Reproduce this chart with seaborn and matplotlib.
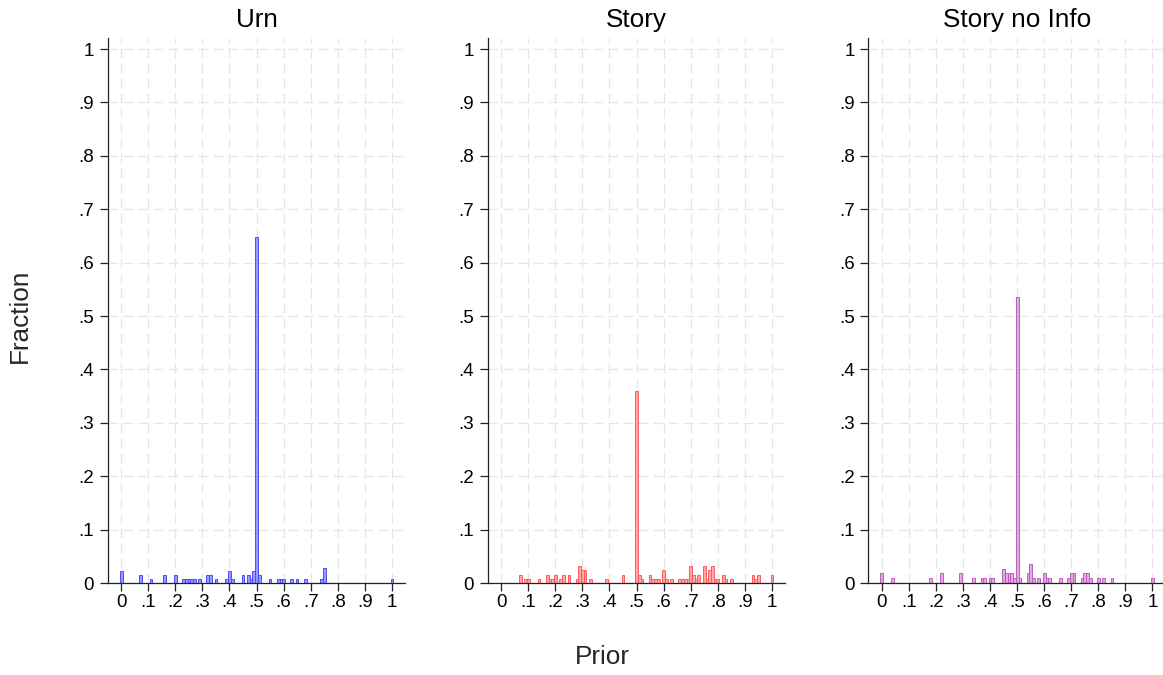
import numpy as np
import pandas as pd
import matplotlib
matplotlib.use("Agg")
import matplotlib.pyplot as plt
import seaborn as sns

# ---- data: bin centres (prior) and counts per panel ----
urn_prior = [0.00, 0.07, 0.11, 0.16, 0.20, 0.23, 0.24, 0.25, 0.26, 0.27, 0.29, 0.32, 0.33,
             0.35, 0.39, 0.40, 0.41, 0.45, 0.47, 0.48, 0.49, 0.50, 0.51, 0.55, 0.58, 0.59,
             0.60, 0.63, 0.65, 0.68, 0.74, 0.75, 1.00]
urn_count = [3, 2, 1, 2, 2, 1, 1, 1, 1, 1, 1, 2, 2,
             1, 1, 3, 1, 2, 2, 1, 3, 90, 2, 1, 1, 1,
             1, 1, 1, 1, 1, 4, 1]

story_prior = [0.07, 0.09, 0.10, 0.14, 0.17, 0.18, 0.19, 0.20, 0.22, 0.23, 0.25, 0.28, 0.29,
               0.30, 0.31, 0.33, 0.39, 0.45, 0.50, 0.51, 0.52, 0.55, 0.56, 0.57, 0.58, 0.60,
               0.61, 0.63, 0.66, 0.67, 0.68, 0.69, 0.70, 0.71, 0.72, 0.73, 0.75, 0.76, 0.77,
               0.78, 0.79, 0.80, 0.82, 0.83, 0.85, 0.93, 0.94, 0.95, 1.00]
story_count = [2, 1, 1, 1, 2, 1, 1, 2, 1, 2, 2, 1, 4,
               3, 3, 1, 1, 2, 46, 2, 1, 2, 1, 1, 1, 3,
               1, 1, 1, 1, 1, 1, 4, 2, 1, 2, 4, 1, 3,
               4, 1, 1, 2, 1, 1, 2, 1, 2, 2]

noinfo_prior = [0.00, 0.04, 0.18, 0.22, 0.29, 0.34, 0.37, 0.38, 0.40, 0.41, 0.45, 0.46, 0.47,
                0.48, 0.49, 0.50, 0.51, 0.54, 0.55, 0.56, 0.58, 0.60, 0.61, 0.62, 0.66, 0.69,
                0.70, 0.71, 0.74, 0.75, 0.76, 0.77, 0.80, 0.82, 0.85, 1.00]
noinfo_count = [2, 1, 1, 2, 2, 1, 1, 1, 1, 1, 3, 2, 2,
                2, 1, 60, 1, 2, 4, 1, 1, 2, 1, 1, 1, 1,
                2, 2, 1, 2, 2, 1, 1, 1, 1, 1]

panel_titles = ["Urn", "Story", "Story no Info"]
tick_vals = [0, .1, .2, .3, .4, .5, .6, .7, .8, .9, 1]
tick_labels = ["0", ".1", ".2", ".3", ".4", ".5", ".6", ".7", ".8", ".9", "1"]

panels = [
    (urn_prior, urn_count, "#7a7aff", "#4d4dff"),
    (story_prior, story_count, "#ff8c8c", "#ff5c5c"),
    (noinfo_prior, noinfo_count, "#d98ed9", "#bf5fbf"),
]

sns.set_style("white")
plt.rcParams["font.family"] = ["Liberation Sans", "DejaVu Sans"]

W, H = 1163, 675
fig = plt.figure(figsize=(W / 100, H / 100), dpi=100)

lefts = [107.7, 487.7, 868.3]
ax_w, ax_top, ax_bot = 297.7, 38.0, 583.0

for (prior, count, fc, ec), title, lp in zip(panels, panel_titles, lefts):
    ax = fig.add_axes([lp / W, (H - ax_bot) / H, ax_w / W, (ax_bot - ax_top) / H])
    df = pd.DataFrame({"prior": prior, "n": count})
    sns.histplot(data=df, x="prior", weights="n", bins=101, binrange=(-0.005, 1.005),
                 stat="probability", ax=ax, color=fc, edgecolor=ec, linewidth=0.7,
                 alpha=0.75)
    ax.set_xlim(-0.05, 1.05)
    ax.set_ylim(0, 1.0206)
    ax.set_xticks(tick_vals)
    ax.set_xticklabels(tick_labels)
    ax.set_yticks(tick_vals)
    ax.set_yticklabels(tick_labels)
    ax.set_xlabel("")
    ax.set_ylabel("")
    ax.grid(True, color="#e6e6e6", linewidth=0.9, linestyle=(0, (8, 4)))
    ax.set_axisbelow(True)
    for s in ["top", "right"]:
        ax.spines[s].set_visible(False)
    for s in ["left", "bottom"]:
        ax.spines[s].set_color("#222222")
        ax.spines[s].set_linewidth(0.9)
    ax.tick_params(axis="both", direction="out", length=5.8, width=0.9, color="#222222",
                   labelsize=13.5, labelcolor="black", left=True, bottom=True)
    ax.tick_params(axis="x", pad=2)
    ax.tick_params(axis="y", pad=4)
    ax.set_title(title, fontsize=18.8, pad=8, color="black")

fig.text(20 / W, 1 - 316 / H, "Fraction", rotation=90, ha="center", va="center", fontsize=18.8)
fig.text(602 / W, 1 - 657 / H, "Prior", ha="center", va="center", fontsize=18.8)

fig.savefig("out.png", dpi=100, facecolor="white")
